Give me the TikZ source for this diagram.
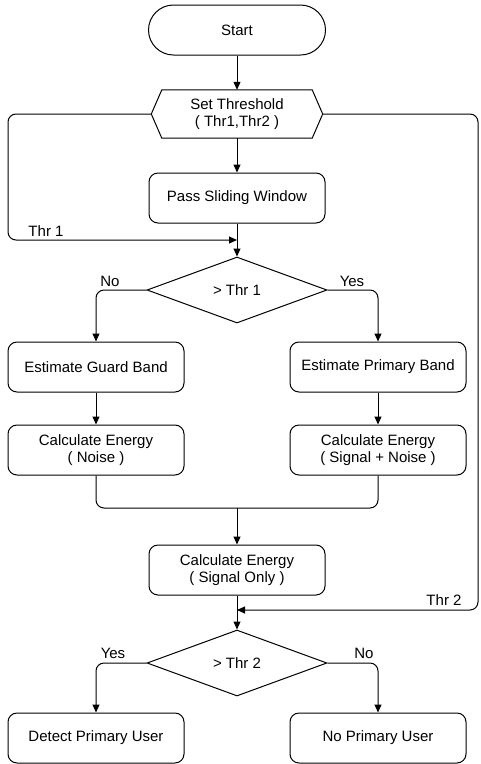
\documentclass[tikz,border=0pt]{standalone}
\usepackage{fontspec}
\setmainfont{Liberation Sans}
\usetikzlibrary{shapes.geometric,arrows.meta}
\begin{document}
\begin{tikzpicture}[x=1pt,y=-1pt,
  every node/.style={font=\fontsize{15}{17.5}\selectfont},
  proc/.style={draw,line width=1pt,rounded corners=9pt,minimum width=176pt,minimum height=50pt,align=center,inner sep=0pt},
  term/.style={draw,line width=1pt,rounded corners=25pt,minimum width=177pt,minimum height=50pt,inner sep=0pt},
  dec/.style={draw,line width=1pt,diamond,minimum width=180pt,minimum height=66pt,inner sep=0pt},
  hexbox/.style={minimum width=171pt,minimum height=48pt,align=center,inner sep=0pt},
  arr/.style={line width=1pt,-{Triangle[width=7pt,length=8pt]}},
  ln/.style={line width=1pt,rounded corners=8pt},
  lbl/.style={inner sep=1pt}]
\useasboundingbox (0,0) rectangle (480,764);
\node[term] (start) at (237,30) {Start};
\node[hexbox] (th) at (237,114) {Set Threshold\\( Thr1,Thr2 )};
\draw[line width=1pt] (th.west) -- ([xshift=10.5pt]th.north west) -- ([xshift=-10.5pt]th.north east) -- (th.east) -- ([xshift=-10.5pt]th.south east) -- ([xshift=10.5pt]th.south west) -- cycle;
\node[proc] (psw) at (237,198) {Pass Sliding Window};
\node[dec] (d1) at (237,290) {> Thr 1};
\node[proc] (geb) at (96,367) {Estimate Guard Band};
\node[proc] (peb) at (378,367) {Estimate Primary Band};
\node[proc] (cen) at (96,450) {Calculate Energy\\( Noise )};
\node[proc] (cesn) at (378,450) {Calculate Energy\\( Signal + Noise )};
\node[proc] (ceso) at (237,570) {Calculate Energy\\( Signal Only )};
\node[dec] (d2) at (237,663) {> Thr 2};
\node[proc] (dpu) at (96,738) {Detect Primary User};
\node[proc] (npu) at (378,738) {No Primary User};
\coordinate (j1) at (237,240);
\coordinate (j2) at (237,610);
\coordinate (m) at (237,508);
\draw[arr] (start) -- (th);
\draw[arr] (th) -- (psw);
\draw[arr] (psw) -- (d1);
\draw[ln,arr] (th.west) -- (8,114) -- (8,240) -- (j1);
\node[lbl] (t1) at (46,231) {Thr 1};
\draw[ln,arr] (th.east) -- (478,114) -- (478,610) -- (j2);
\node[lbl] (t2) at (444,600) {Thr 2};
\draw[ln,arr] (d1.west) -| (geb.north);
\draw[ln,arr] (d1.east) -| (peb.north);
\node[lbl] (no1) at (110,281) {No};
\node[lbl] (yes1) at (352,281) {Yes};
\draw[arr] (geb) -- (cen);
\draw[arr] (peb) -- (cesn);
\draw[ln] (cen.south) |- (m) -| (cesn.south);
\draw[arr] (m) -- (ceso.north);
\draw[arr] (ceso) -- (d2);
\draw[ln,arr] (d2.west) -| (dpu.north);
\draw[ln,arr] (d2.east) -| (npu.north);
\node[lbl] (yes2) at (113,653) {Yes};
\node[lbl] (no2) at (364,653) {No};
\end{tikzpicture}
\end{document}
